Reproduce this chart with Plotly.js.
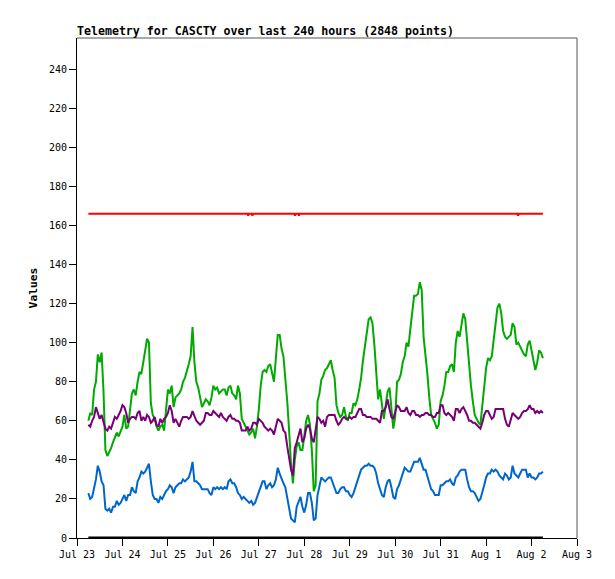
<!DOCTYPE html>
<html>
<head>
<meta charset="utf-8">
<script src="https://cdn.plot.ly/plotly-3.0.1.min.js"></script>
<style>
  html, body { margin: 0; padding: 0; background: #ffffff; }
  #chart { width: 615px; height: 579px; }
</style>
</head>
<body>
<div id="chart"></div>
<script>
// ---- data ----
// hourly samples, hour offsets counted from Jul 23 00:00, first sample at hour 6
const startHour = 6;
const green = [
  60, 64, 63, 76, 80, 94, 90, 95, 75, 45,
  42, 44, 46, 49, 52, 54, 52, 55, 57, 63,
  56, 57, 67, 74, 76, 73, 80, 85, 84, 90,
  96, 102, 100, 69, 63, 61, 57, 55, 57, 58,
  55, 64, 76, 74, 78, 67, 72, 73, 74, 76,
  80, 82, 85, 89, 93, 108, 90, 80, 77, 72,
  67, 69, 71, 70, 68, 72, 78, 76, 77, 74,
  75, 76, 76, 73, 77, 78, 74, 73, 71, 78,
  74, 61, 59, 57, 55, 53, 54, 56, 51, 57,
  66, 78, 85, 86, 85, 88, 89, 84, 80, 92,
  104, 104, 97, 93, 83, 70, 55, 38, 28, 40,
  47, 49, 45, 45, 52, 60, 63, 58, 45, 24,
  27, 70, 74, 81, 83, 86, 87, 89, 91, 86,
  82, 68, 64, 62, 63, 67, 62, 60, 64, 64,
  69, 68, 71, 76, 82, 91, 98, 103, 112, 113,
  110, 99, 82, 71, 76, 68, 61, 68, 75, 77,
  68, 56, 62, 80, 81, 84, 90, 93, 100, 98,
  107, 116, 124, 124, 125, 131, 127, 103, 94, 84,
  72, 63, 61, 59, 56, 58, 70, 73, 78, 85,
  85, 88, 89, 85, 100, 106, 103, 108, 115, 112,
  101, 86, 78, 70, 63, 61, 59, 58, 69, 80,
  87, 92, 91, 93, 102, 112, 118, 120, 115, 106,
  103, 102, 103, 104, 110, 108, 99, 100, 98, 96,
  94, 93, 99, 101, 96, 91, 86, 90, 96, 95, 92
];
const purple = [
  58, 57, 60, 62, 67, 64, 61, 63, 59, 56,
  55, 57, 56, 59, 62, 61, 63, 65, 68, 67,
  64, 59, 61, 62, 62, 61, 64, 65, 60, 62,
  60, 63, 62, 59, 60, 62, 58, 57, 61, 59,
  61, 62, 64, 68, 65, 59, 61, 59, 57, 60,
  62, 62, 62, 61, 62, 65, 62, 60, 59, 58,
  59, 60, 64, 64, 63, 63, 65, 64, 63, 62,
  64, 62, 61, 60, 62, 63, 61, 61, 60, 60,
  59, 55, 55, 55, 57, 55, 56, 59, 59, 58,
  61, 60, 59, 57, 56, 55, 56, 55, 53, 57,
  61, 60, 59, 55, 54, 47, 40, 35, 32, 46,
  49, 52, 56, 49, 51, 56, 58, 56, 51, 49,
  56, 62, 61, 59, 60, 57, 62, 63, 63, 63,
  63, 60, 58, 59, 61, 62, 61, 61, 62, 61,
  62, 62, 64, 66, 66, 63, 63, 62, 62, 62,
  61, 61, 61, 60, 59, 65, 65, 67, 71, 66,
  62, 61, 65, 68, 67, 65, 65, 65, 67, 64,
  63, 65, 65, 63, 63, 62, 63, 63, 64, 64,
  63, 63, 62, 62, 64, 64, 68, 68, 64, 63,
  64, 63, 62, 60, 66, 66, 64, 66, 67, 65,
  63, 60, 60, 59, 59, 58, 57, 56, 59, 63,
  65, 65, 63, 61, 62, 66, 66, 66, 66, 66,
  61, 58, 57, 61, 64, 63, 62, 61, 62, 64,
  65, 65, 66, 68, 66, 66, 64, 65, 64, 65, 64
];
const blue = [
  23, 20, 21, 26, 30, 37, 34, 29, 27, 15,
  14, 15, 13, 16, 16, 19, 17, 18, 20, 22,
  19, 22, 22, 26, 24, 23, 29, 31, 34, 33,
  34, 36, 38, 29, 22, 20, 20, 18, 21, 20,
  22, 24, 25, 27, 26, 23, 26, 27, 28, 28,
  30, 29, 30, 31, 34, 39, 29, 29, 28, 27,
  25, 25, 25, 25, 23, 22, 26, 25, 26, 25,
  26, 25, 26, 25, 29, 30, 28, 28, 26, 23,
  22, 20, 21, 20, 19, 18, 19, 17, 18, 21,
  23, 26, 29, 29, 25, 27, 28, 26, 27, 30,
  36, 33, 30, 28, 26, 20, 14, 10, 9, 8,
  16, 19, 21, 16, 13, 17, 23, 23, 18, 9,
  10, 22, 27, 31, 30, 29, 30, 31, 31, 28,
  26, 23, 23, 25, 26, 26, 24, 24, 22, 21,
  23, 26, 30, 33, 35, 36, 37, 37, 38, 37,
  37, 36, 33, 28, 25, 22, 21, 26, 29, 30,
  26, 21, 20, 25, 27, 30, 34, 36, 35, 34,
  34, 37, 39, 39, 39, 41, 38, 35, 35, 32,
  29, 25, 24, 22, 22, 22, 27, 27, 28, 29,
  29, 30, 28, 27, 31, 32, 34, 35, 35, 35,
  30, 26, 24, 24, 23, 21, 19, 20, 23, 27,
  31, 33, 33, 35, 34, 35, 34, 32, 31, 30,
  33, 32, 30, 31, 37, 33, 32, 31, 33, 35,
  35, 35, 31, 33, 31, 31, 30, 31, 33, 33, 34
];
// red series: flat with a few one-sample dips
const redHours  = [6, 90, 90.4, 90.8, 92.2, 92.6, 93, 114.7, 115.1, 115.5, 116.8, 117.2, 117.6, 232.5, 232.9, 233.3, 246];
const redValues = [166, 166, 165, 166, 166, 165, 166, 166, 165, 166, 166, 165, 166, 166, 165, 166, 166];
// black series: zero level
const blackHours  = [6, 246];
const blackValues = [0, 0];

const yTickValues = [0, 20, 40, 60, 80, 100, 120, 140, 160, 180, 200, 220, 240];
const titleText = 'Telemetry for CASCTY over last 240 hours (2848 points)';
const yTitle = 'Values';

// ---- helpers ----
const base = Date.UTC(2023, 6, 23, 0, 0, 0);
function hourToDate(h) {
  const d = new Date(base + h * 3600000);
  return d.toISOString().replace('T', ' ').slice(0, 19);
}
const hourly = green.map((_, i) => hourToDate(startHour + i));

const mono = 'DejaVu Sans Mono, Liberation Mono, monospace';

const traces = [
  { x: blackHours.map(hourToDate), y: blackValues, mode: 'lines', line: { color: '#000000', width: 3 } },
  { x: redHours.map(hourToDate), y: redValues, mode: 'lines', line: { color: '#ff0000', width: 2 } },
  { x: hourly, y: green, mode: 'lines', line: { color: '#00aa00', width: 2 } },
  { x: hourly, y: purple, mode: 'lines', line: { color: '#770077', width: 2 } },
  { x: hourly, y: blue, mode: 'lines', line: { color: '#0066cc', width: 2 } }
];

const layout = {
  width: 615,
  height: 579,
  paper_bgcolor: '#ffffff',
  plot_bgcolor: '#ffffff',
  showlegend: false,
  margin: { l: 77, r: 38, t: 38, b: 41 },
  title: {
    text: titleText,
    font: { family: mono, size: 11.6, color: '#000000', weight: 'bold' },
    xref: 'paper', x: 0, xanchor: 'left',
    yref: 'paper', y: 1, yanchor: 'bottom',
    pad: { b: 3, l: 0 }
  },
  xaxis: {
    type: 'date',
    range: [hourToDate(0), hourToDate(264)],
    tick0: hourToDate(0),
    dtick: 86400000,
    tickformat: '%b %-d',
    ticks: 'outside',
    ticklen: 7,
    tickwidth: 1,
    tickcolor: '#000000',
    showgrid: false,
    zeroline: false,
    showline: true,
    linecolor: '#000000',
    linewidth: 1,
    tickfont: { family: mono, size: 10, color: '#000000' },
    fixedrange: true
  },
  yaxis: {
    range: [0, 256],
    tickvals: yTickValues,
    ticktext: yTickValues.map(String),
    ticks: 'outside',
    ticklen: 7,
    tickwidth: 1,
    tickcolor: '#000000',
    showgrid: false,
    zeroline: false,
    showline: true,
    linecolor: '#000000',
    linewidth: 1,
    tickfont: { family: mono, size: 10, color: '#000000' },
    title: { text: yTitle, font: { family: mono, size: 11.3, color: '#000000', weight: 'bold' }, standoff: 8 },
    fixedrange: true
  },
  shapes: [
    { type: 'line', xref: 'paper', yref: 'paper', x0: 0, x1: 1, y0: 1, y1: 1, line: { color: '#555555', width: 1 } },
    { type: 'line', xref: 'paper', yref: 'paper', x0: 1, x1: 1, y0: 0, y1: 1, line: { color: '#555555', width: 1 } }
  ]
};

Plotly.newPlot('chart', traces, layout, { staticPlot: true, displayModeBar: false });
</script>
</body>
</html>
